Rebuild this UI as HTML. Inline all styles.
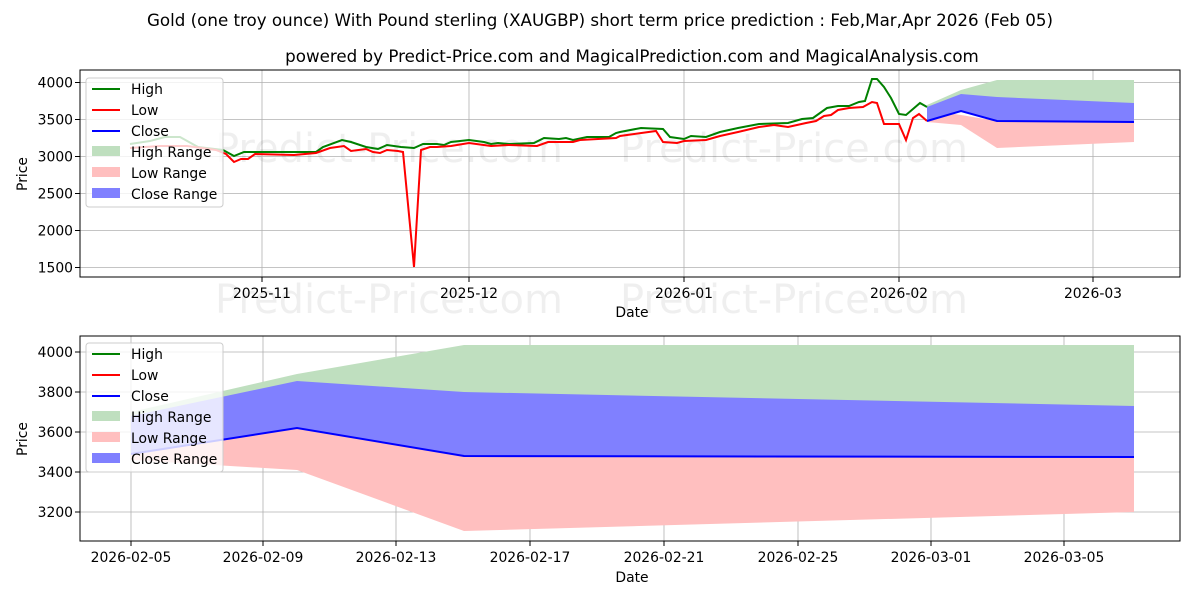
<!DOCTYPE html>
<html><head><meta charset="utf-8"><style>
body{margin:0;background:#fff}
svg{display:block;font-family:"DejaVu Sans","Liberation Sans",sans-serif}
</style></head><body>
<svg width="1200" height="600" viewBox="0 0 1200 600" xmlns="http://www.w3.org/2000/svg">
<rect width="1200" height="600" fill="#fff"/>
<text x="600" y="26" font-size="16.7" text-anchor="middle">Gold (one troy ounce) With Pound sterling (XAUGBP) short term price prediction : Feb,Mar,Apr 2026 (Feb 05)</text>
<text x="632" y="62" font-size="16.7" text-anchor="middle">powered by Predict-Price.com and MagicalPrediction.com and MagicalAnalysis.com</text>

<!-- TOP CHART -->
<g stroke="#b0b0b0" stroke-width="0.8">
<line x1="80" x2="1180" y1="82.5" y2="82.5"/><line x1="80" x2="1180" y1="119.5" y2="119.5"/><line x1="80" x2="1180" y1="156.5" y2="156.5"/><line x1="80" x2="1180" y1="193.5" y2="193.5"/><line x1="80" x2="1180" y1="230.5" y2="230.5"/><line x1="80" x2="1180" y1="267.5" y2="267.5"/>
<line y1="70" y2="277" x1="262" x2="262"/><line y1="70" y2="277" x1="469" x2="469"/><line y1="70" y2="277" x1="684" x2="684"/><line y1="70" y2="277" x1="899" x2="899"/><line y1="70" y2="277" x1="1093" x2="1093"/>
</g>
<g font-size="40" fill="#000" opacity="0.06"><text x="215" y="162">Predict-Price.com</text><text x="620" y="162">Predict-Price.com</text><text x="215" y="313">Predict-Price.com</text><text x="620" y="313">Predict-Price.com</text></g>
<polygon fill="#bfdfbf" points="927,105 961,90 997,80 1134,80 1134,122 997,121 961,111 927,121"/>
<polygon fill="#ffbfbf" points="927,110 961,115 997,121 1134,122 1134,142 997,148 961,125 927,122"/>
<polygon fill="#8080ff" points="927,107 961,94 997,97 1134,103 1134,122 997,121 961,111 927,121"/>
<polyline fill="none" stroke="#008000" stroke-width="2" points="130,144 150,141 165,137 180,137 198,147 223,150 234,156 244,152 255,152 269,152 280,152 294,152 316,152 323,147 342,140 351,142 366,147 378,149 387,145 401,147 414,148 423,144 437,144 444,145 451,142 469,140 484,142 491,144 498,143 509,144 534,143 544,138 559,139 566,138 573,140 587,137 609,137 616,133 620,132 641,128 663,129 670,137 684,139 691,136 706,137 720,132 738,128 759,124 788,123 802,119 813,118 827,108 838,106 849,106 859,102 865,101 872,79 877,79 884,87 891,98 899,114 906,115 920,103 927,107"/>
<polyline fill="none" stroke="#ff0000" stroke-width="2" points="130,148 160,146 187,146 216,150 226,154 234,162 241,159 248,159 255,154 294,155 316,153 330,148 344,146 351,151 366,149 373,152 380,153 387,150 398,151 403,152 414,267 421,150 430,147 437,147 451,146 469,143 491,146 509,145 537,146 548,142 573,142 580,140 616,138 620,136 656,131 663,142 677,143 684,141 706,140 720,136 738,132 759,127 774,125 788,127 806,123 816,121 824,116 831,115 838,110 849,108 863,107 872,102 877,103 884,124 899,124 906,140 913,118 919,114 927,121"/>
<polyline fill="none" stroke="#0000ff" stroke-width="2" points="927,121 961,111 997,121 1134,122"/>
<rect x="80" y="70" width="1100" height="207" fill="none" stroke="#000" stroke-width="1"/>
<g font-size="13.9" text-anchor="end">
<text x="73" y="87.5">4000</text><text x="73" y="124.5">3500</text><text x="73" y="161.5">3000</text><text x="73" y="198.5">2500</text><text x="73" y="235.5">2000</text><text x="73" y="272.5">1500</text>
</g>
<g stroke="#000"><line x1="75" x2="80" y1="82.5" y2="82.5"/><line x1="75" x2="80" y1="119.5" y2="119.5"/><line x1="75" x2="80" y1="156.5" y2="156.5"/><line x1="75" x2="80" y1="193.5" y2="193.5"/><line x1="75" x2="80" y1="230.5" y2="230.5"/><line x1="75" x2="80" y1="267.5" y2="267.5"/>
<line y1="277" y2="282" x1="262" x2="262"/><line y1="277" y2="282" x1="469" x2="469"/><line y1="277" y2="282" x1="684" x2="684"/><line y1="277" y2="282" x1="899" x2="899"/><line y1="277" y2="282" x1="1093" x2="1093"/></g>
<g font-size="13.9" text-anchor="middle"><text x="262" y="298">2025-11</text><text x="469" y="298">2025-12</text><text x="684" y="298">2026-01</text><text x="899" y="298">2026-02</text><text x="1093" y="298">2026-03</text>
<text x="632" y="317">Date</text></g>
<text font-size="13.9" text-anchor="middle" transform="translate(27,174) rotate(-90)">Price</text>
<g>
<rect x="86" y="78" width="137" height="129" rx="3" fill="#fff" fill-opacity="0.8" stroke="#ccc"/>
<line x1="92" x2="120" y1="89" y2="89" stroke="#008000" stroke-width="2"/><text x="131" y="94" font-size="13.9">High</text>
<line x1="92" x2="120" y1="110" y2="110" stroke="#ff0000" stroke-width="2"/><text x="131" y="115" font-size="13.9">Low</text>
<line x1="92" x2="120" y1="131" y2="131" stroke="#0000ff" stroke-width="2"/><text x="131" y="136" font-size="13.9">Close</text>
<rect x="92" y="146" width="28" height="10" fill="#bfdfbf"/><text x="131" y="157" font-size="13.9">High Range</text>
<rect x="92" y="167" width="28" height="10" fill="#ffbfbf"/><text x="131" y="178" font-size="13.9">Low Range</text>
<rect x="92" y="188" width="28" height="10" fill="#8080ff"/><text x="131" y="199" font-size="13.9">Close Range</text>
</g>

<!-- BOTTOM CHART -->
<g stroke="#b0b0b0" stroke-width="0.8">
<line x1="80" x2="1180" y1="352" y2="352"/><line x1="80" x2="1180" y1="392" y2="392"/><line x1="80" x2="1180" y1="432" y2="432"/><line x1="80" x2="1180" y1="472" y2="472"/><line x1="80" x2="1180" y1="512" y2="512"/>
<line y1="336" y2="541" x1="131" x2="131"/><line y1="336" y2="541" x1="263" x2="263"/><line y1="336" y2="541" x1="396" x2="396"/><line y1="336" y2="541" x1="530" x2="530"/><line y1="336" y2="541" x1="664" x2="664"/><line y1="336" y2="541" x1="798" x2="798"/><line y1="336" y2="541" x1="931" x2="931"/><line y1="336" y2="541" x1="1064" x2="1064"/>
</g>
<g font-size="40" fill="#000" opacity="0.06"><text x="215" y="458">Predict-Price.com</text><text x="620" y="458">Predict-Price.com</text></g>
<polygon fill="#bfdfbf" points="131,412 297,374 464,345 1134,345 1134,457 464,456 297,428 131,454"/>
<polygon fill="#ffbfbf" points="131,422 297,428 464,456 1134,457 1134,512 464,531 297,470 131,460"/>
<polygon fill="#8080ff" points="131,416 297,381 464,392 1134,406 1134,457 464,456 297,428 131,454"/>
<polyline fill="none" stroke="#0000ff" stroke-width="2" points="131,454 297,428 464,456 1134,457"/>
<rect x="80" y="336" width="1100" height="205" fill="none" stroke="#000" stroke-width="1"/>
<g font-size="13.9" text-anchor="end"><text x="73" y="357">4000</text><text x="73" y="397">3800</text><text x="73" y="437">3600</text><text x="73" y="477">3400</text><text x="73" y="517">3200</text></g>
<g stroke="#000"><line x1="75" x2="80" y1="352" y2="352"/><line x1="75" x2="80" y1="392" y2="392"/><line x1="75" x2="80" y1="432" y2="432"/><line x1="75" x2="80" y1="472" y2="472"/><line x1="75" x2="80" y1="512" y2="512"/>
<line y1="541" y2="546" x1="131" x2="131"/><line y1="541" y2="546" x1="263" x2="263"/><line y1="541" y2="546" x1="396" x2="396"/><line y1="541" y2="546" x1="530" x2="530"/><line y1="541" y2="546" x1="664" x2="664"/><line y1="541" y2="546" x1="798" x2="798"/><line y1="541" y2="546" x1="931" x2="931"/><line y1="541" y2="546" x1="1064" x2="1064"/></g>
<g font-size="13.9" text-anchor="middle"><text x="131" y="562">2026-02-05</text><text x="263" y="562">2026-02-09</text><text x="396" y="562">2026-02-13</text><text x="530" y="562">2026-02-17</text><text x="664" y="562">2026-02-21</text><text x="798" y="562">2026-02-25</text><text x="931" y="562">2026-03-01</text><text x="1064" y="562">2026-03-05</text>
<text x="632" y="582">Date</text></g>
<text font-size="13.9" text-anchor="middle" transform="translate(27,439) rotate(-90)">Price</text>
<g>
<rect x="86" y="343" width="137" height="129" rx="3" fill="#fff" fill-opacity="0.8" stroke="#ccc"/>
<line x1="92" x2="120" y1="354" y2="354" stroke="#008000" stroke-width="2"/><text x="131" y="359" font-size="13.9">High</text>
<line x1="92" x2="120" y1="375" y2="375" stroke="#ff0000" stroke-width="2"/><text x="131" y="380" font-size="13.9">Low</text>
<line x1="92" x2="120" y1="396" y2="396" stroke="#0000ff" stroke-width="2"/><text x="131" y="401" font-size="13.9">Close</text>
<rect x="92" y="411" width="28" height="10" fill="#bfdfbf"/><text x="131" y="422" font-size="13.9">High Range</text>
<rect x="92" y="432" width="28" height="10" fill="#ffbfbf"/><text x="131" y="443" font-size="13.9">Low Range</text>
<rect x="92" y="453" width="28" height="10" fill="#8080ff"/><text x="131" y="464" font-size="13.9">Close Range</text>
</g>
</svg>
</body></html>
